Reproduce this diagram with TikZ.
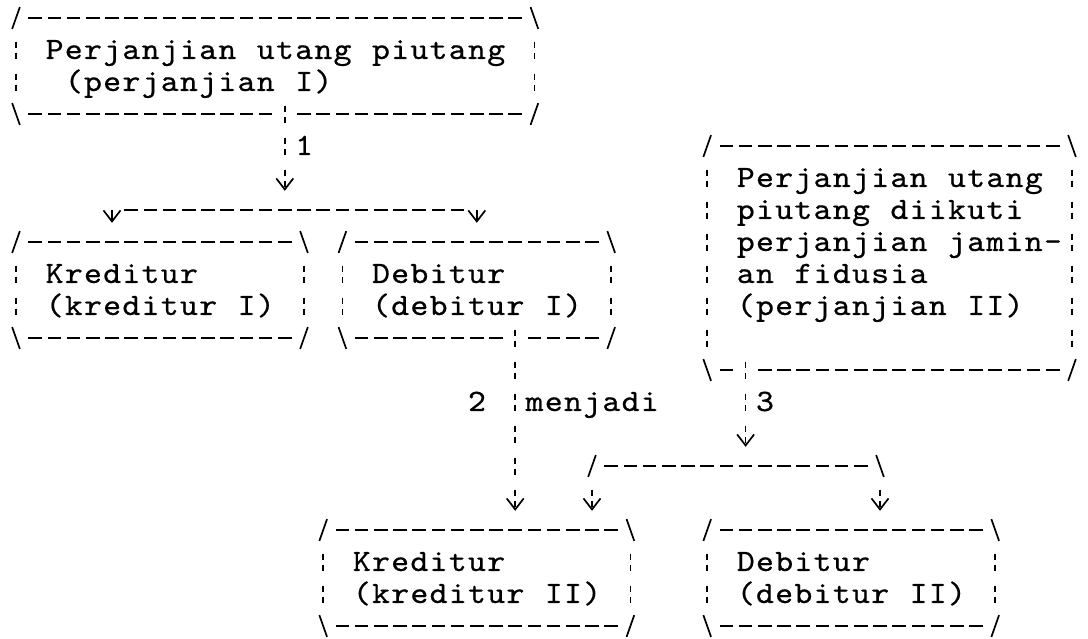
\documentclass[tikz,border=0pt]{standalone}
\usepackage{fontspec}
\newfontfamily\ketik{lmmono10-regular}[Extension=.otf,FakeStretch=1.1,FakeBold=0.6]
\usetikzlibrary{arrows.meta,calc,fit}
\makeatletter
\def\ketikan#1{\ketikan@#1\relax}
\def\ketikan@#1{\ifx\relax#1\else\makebox[19.2pt][c]{#1}\expandafter\ketikan@\fi}
\makeatother
\newcommand\bingkai[2][0]{%
\draw[sudut] ($(#2.north west)+(-.2,.34)$) -- ($(#2.north west)+(.2,-.34)$);
\draw[sudut] ($(#2.north east)+(-.2,-.34)$) -- ($(#2.north east)+(.2,.34)$);
\draw[sudut] ($(#2.south west)+(-.2,-.34)$) -- ($(#2.south west)+(.2,.34)$);
\draw[sudut] ($(#2.south east)+(-.2,.34)$) -- ($(#2.south east)+(.2,-.34)$);
\draw[garis] ($(#2.north west)+(.5,0)$) -- ($(#2.north east)+(-.5,0)$);
\draw[tegak] ($(#2.north west)+(0,.5)$) -- ($(#2.south west)+(0,-.5)$);
\draw[tegak] ($(#2.north east)+(0,.5)$) -- ($(#2.south east)+(0,-.5)$);
\ifnum#1=0\relax
\draw[garis] ($(#2.south west)+(.5,0)$) -- ($(#2.south east)+(-.5,0)$);
\else
\draw[garis] ($(#2.south west)+(.5,0)$) -- ($(#2.south west)+(#1-.5,0)$);
\draw[garis] ($(#2.south west)+(#1+.5,0)$) -- ($(#2.south east)+(-.5,0)$);
\fi}
\begin{document}
\begin{tikzpicture}[x=19.2pt,y=-32pt,
>={Straight Barb[length=11pt,width=17pt]},
sudut/.style={line width=1.7pt},
garis/.style={line width=1.7pt,dash pattern=on 13.6pt off 5.6pt,dash phase=16.4pt},
tegak/.style={line width=1.7pt,dash pattern=on 6pt off 5pt on 6pt off 15pt,dash phase=24.5pt},
kotak/.style={inner sep=0pt,outer sep=0pt},
tulis/.style={font=\ketik\fontsize{31}{32}\selectfont,anchor=base west,inner sep=0pt},
isi/.style={tulis,text width=20cm,align=left}]
\useasboundingbox (-0.8333,-0.5625) rectangle (55.8333,19.375);
\node[kotak,fit={(0,0) (27,3)}] (pj1) {};
\node[kotak,fit={(0,7) (15,10)}] (kr1) {};
\node[kotak,fit={(17,7) (31,10)}] (db1) {};
\node[kotak,fit={(36,4) (55,11)}] (pj2) {};
\node[kotak,fit={(16,16) (32,19)}] (kr2) {};
\node[kotak,fit={(36,16) (51,19)}] (db2) {};
\bingkai[14]{pj1}
\bingkai{kr1}
\bingkai[9]{db1}
\bingkai[2]{pj2}
\bingkai{kr2}
\bingkai{db2}
\node[isi] (tpj1) at ($(pj1.north west)+(1.5,1.28)$) {\ketikan{Perjanjian~utang~piutang}\\\ketikan{~(perjanjian~I)}};
\node[isi] (tkr1) at ($(kr1.north west)+(1.5,1.28)$) {\ketikan{Kreditur}\\\ketikan{(kreditur~I)}};
\node[isi] (tdb1) at ($(db1.north west)+(1.5,1.28)$) {\ketikan{Debitur}\\\ketikan{(debitur~I)}};
\node[isi] (tpj2) at ($(pj2.north west)+(1.5,1.28)$) {\ketikan{Perjanjian~utang}\\\ketikan{piutang~diikuti}\\\ketikan{perjanjian~jamin-}\\\ketikan{an~fidusia}\\\ketikan{(perjanjian~II)}};
\node[isi] (tkr2) at ($(kr2.north west)+(1.5,1.28)$) {\ketikan{Kreditur}\\\ketikan{(kreditur~II)}};
\node[isi] (tdb2) at ($(db2.north west)+(1.5,1.28)$) {\ketikan{Debitur}\\\ketikan{(debitur~II)}};
\coordinate (p1) at ($(pj1.south west)+(14,0)$);
\coordinate (ki1) at (5,6);
\coordinate (ka1) at (24,6);
\draw[tegak,->,shorten >=19.2pt] ($(p1)+(0,-.5)$) -- (p1 |- ki1);
\node[tulis] (n1) at ($(p1)+(.5,1.28)$) {\ketikan{1}};
\draw[garis] ($(ki1)+(.5,0)$) -- ($(ka1)+(-.5,0)$);
\draw[sudut,->,shorten >=19.2pt] (ki1) -- (ki1 |- kr1.north);
\draw[sudut,->,shorten >=19.2pt] (ka1) -- (ka1 |- db1.north);
\coordinate (p2) at ($(db1.south west)+(9,0)$);
\draw[tegak,->,shorten >=19.2pt] ($(p2)+(0,-.5)$) -- (p2 |- kr2.north);
\node[tulis] (n2) at ($(p2)+(-2.5,2.28)$) {\ketikan{2}};
\node[tulis] (menjadi) at ($(p2)+(.5,2.28)$) {\ketikan{menjadi}};
\coordinate (p3) at ($(pj2.south west)+(2,0)$);
\coordinate (ki2) at (30,14);
\coordinate (ka2) at (45,14);
\draw[tegak,->,shorten >=19.2pt] ($(p3)+(0,-.5)$) -- (p3 |- ki2);
\node[tulis] (n3) at ($(p3)+(.5,1.28)$) {\ketikan{3}};
\draw[sudut] ($(ki2)+(-.2,.34)$) -- ($(ki2)+(.2,-.34)$);
\draw[sudut] ($(ka2)+(-.2,-.34)$) -- ($(ka2)+(.2,.34)$);
\draw[garis] ($(ki2)+(.5,0)$) -- ($(ka2)+(-.5,0)$);
\draw[tegak,->,shorten >=19.2pt] ($(ki2)+(0,.5)$) -- (ki2 |- kr2.north);
\draw[tegak,->,shorten >=19.2pt] ($(ka2)+(0,.5)$) -- (ka2 |- db2.north);
\end{tikzpicture}
\end{document}
